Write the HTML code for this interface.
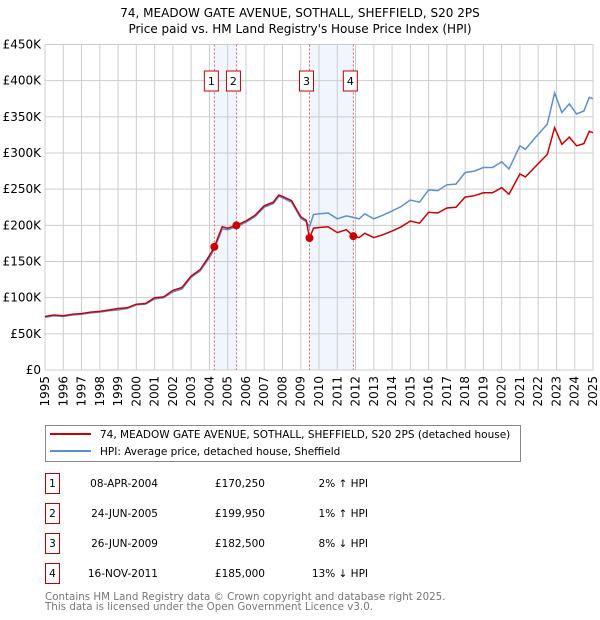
<!DOCTYPE html>
<html><head><meta charset="utf-8"><style>
body{margin:0;background:#fff;font-family:"DejaVu Sans","Liberation Sans",sans-serif;}
#wrap{position:relative;width:600px;height:620px;overflow:hidden}
svg text{font-family:"DejaVu Sans","Liberation Sans",sans-serif}
</style></head><body><div id="wrap">
<svg id="chart" width="600" height="620"></svg>
</div>
<script>
const dates=[1995.0,1995.5,1996.0,1996.5,1997.0,1997.5,1998.0,1998.5,1999.0,1999.5,2000.0,2000.5,2001.0,2001.5,2002.0,2002.5,2003.0,2003.5,2004.0,2004.27,2004.7,2005.0,2005.48,2006.0,2006.5,2007.0,2007.5,2007.8,2008.0,2008.5,2009.0,2009.3,2009.48,2009.7,2010.0,2010.5,2011.0,2011.5,2011.88,2012.2,2012.5,2013.0,2013.5,2014.0,2014.5,2015.0,2015.5,2016.0,2016.5,2017.0,2017.5,2018.0,2018.5,2019.0,2019.5,2020.0,2020.4,2021.0,2021.3,2021.8,2022.5,2022.9,2023.3,2023.7,2024.1,2024.5,2024.8,2025.0];
const hpiValues=[73,75,74,76,77,79,80,82,83,85,90,91,98,100,108,112,128,137,155,167,195,194,198,204,212,225,230,240,238,232,210,205,198,215,216,217,209,213,211,209,216,209,214,220,226,235,232,249,248,256,257,273,275,280,280,288,278,310,305,320,340,383,356,368,354,358,377,375];
const priceValues=[74,76,75,77,78,80,81,83,85,86,91,92,100,101,110,114,130,139,158,170,198,196,200,206,214,227,232,242,240,234,212,207,182.5,196,197,198,190,194,185,183,189,183,187,192,198,206,203,218,217,224,225,239,241,245,245,252,243,271,267,280,298,335,312,322,310,313,330,328];
const saleDates=[2004.27,2005.48,2009.48,2011.88];
const salePrices=[170.25,199.95,182.5,185];
const saleLabels=["1","2","3","4"];
const yTicks=[0,50,100,150,200,250,300,350,400,450];
const yTickLabels=["£0","£50K","£100K","£150K","£200K","£250K","£300K","£350K","£400K","£450K"];
const xYears=[1995,1996,1997,1998,1999,2000,2001,2002,2003,2004,2005,2006,2007,2008,2009,2010,2011,2012,2013,2014,2015,2016,2017,2018,2019,2020,2021,2022,2023,2024,2025];

const NS="http://www.w3.org/2000/svg";
const svg=document.getElementById('chart');
const X0=45,X1=593,Y0=370,Y1=44.5;
const xs=y=>X0+(y-1995)/(2025-1995)*(X1-X0);
const ys=v=>Y0-v/450*(Y0-Y1);
function mk(t,a,p){const e=document.createElementNS(NS,t);for(const k in a)e.setAttribute(k,a[k]);(p||svg).appendChild(e);return e;}

let t=mk('text',{x:300,y:17,'text-anchor':'middle','font-size':'12',fill:'#000'});t.textContent="74, MEADOW GATE AVENUE, SOTHALL, SHEFFIELD, S20 2PS";


t=mk('text',{x:300,y:33,'text-anchor':'middle','font-size':'12',fill:'#000'});t.textContent="Price paid vs. HM Land Registry's House Price Index (HPI)";



for(let i=0;i<saleDates.length;i+=2){
  const r=mk('rect',{x:xs(saleDates[i]),y:Y1,width:xs(saleDates[i+1])-xs(saleDates[i]),height:Y0-Y1,fill:'#f1f5fd'});
  
  
}
yTicks.forEach((v,i)=>{
  const l=mk('line',{x1:X0,x2:X1,y1:ys(v),y2:ys(v),stroke:'#cccccc','stroke-width':1});
  
  
  const tx=mk('text',{x:X0-4,y:ys(v)+4,'text-anchor':'end','font-size':'12',fill:'#000'});
  tx.textContent=yTickLabels[i];
  
  
});
xYears.forEach(yr=>{
  const l=mk('line',{x1:xs(yr),x2:xs(yr),y1:Y1,y2:Y0,stroke:'#cccccc','stroke-width':1});
  
  
  const tx=mk('text',{x:0,y:0,'text-anchor':'end','font-size':'12',fill:'#000',transform:`translate(${xs(yr)+4},${Y0+6}) rotate(-90)`});
  tx.textContent=yr;
  
  
});
saleDates.forEach((d,i)=>{
  const l=mk('line',{x1:xs(d),x2:xs(d),y1:Y1,y2:Y0,stroke:'#e06060','stroke-width':1,'stroke-dasharray':'2,2'});
  
  
  const bx=mk('rect',{x:xs(d)-10,y:71,width:14,height:20,fill:'#fff',stroke:'#c00000','stroke-width':1});
  
  
  const tx=mk('text',{x:xs(d)-3,y:85,'text-anchor':'middle','font-size':'11',fill:'#000'});
  tx.textContent=saleLabels[i];
  
  
});
function pathOf(vals){return vals.map((v,i)=>(i?'L':'M')+xs(dates[i]).toFixed(1)+','+ys(v).toFixed(1)).join('');}
let p=mk('path',{d:pathOf(hpiValues),fill:'none',stroke:'#5b8fd4','stroke-width':1.5});


p=mk('path',{d:pathOf(priceValues),fill:'none',stroke:'#cc0000','stroke-width':1.5});


saleDates.forEach((d,i)=>{
  const c=mk('circle',{cx:xs(d),cy:ys(salePrices[i]),r:4,fill:'#cc0000'});
  
  
});
let g=mk('rect',{x:45.5,y:425.5,width:475,height:36,fill:'#fff',stroke:'#888','stroke-width':1});


mk('line',{x1:50,x2:91,y1:434,y2:434,stroke:'#cc0000','stroke-width':2});
mk('line',{x1:50,x2:91,y1:451,y2:451,stroke:'#5b8fd4','stroke-width':2});
t=mk('text',{x:100,y:438,'font-size':'10.5',fill:'#000'});t.textContent="74, MEADOW GATE AVENUE, SOTHALL, SHEFFIELD, S20 2PS (detached house)";


t=mk('text',{x:100,y:455,'font-size':'10.5',fill:'#000'});t.textContent="HPI: Average price, detached house, Sheffield";


const tDates=["08-APR-2004","24-JUN-2005","26-JUN-2009","16-NOV-2011"];
const tPrices=["£170,250","£199,950","£182,500","£185,000"];
const tHpi=["2% ↑ HPI","1% ↑ HPI","8% ↓ HPI","13% ↓ HPI"];
tDates.forEach((d,i)=>{
  const y=483+i*30;
  const b=mk('rect',{x:45.5,y:y-9.5,width:14,height:20,fill:'#fff',stroke:'#c00000','stroke-width':1});
  
  
  let e=mk('text',{x:52.5,y:y+4,'text-anchor':'middle','font-size':'10.5',fill:'#000'});e.textContent=saleLabels[i];
  e=mk('text',{x:158,y:y+4,'text-anchor':'end','font-size':'10.5',fill:'#000'});e.textContent=d;
  
  
  e=mk('text',{x:265,y:y+4,'text-anchor':'end','font-size':'10.5',fill:'#000'});e.textContent=tPrices[i];
  
  
  e=mk('text',{x:368,y:y+4,'text-anchor':'end','font-size':'10.5',fill:'#000'});e.textContent=tHpi[i];
  
  
});
t=mk('text',{x:45,y:600,'font-size':'10.3',fill:'#777'});t.textContent="Contains HM Land Registry data © Crown copyright and database right 2025.";


t=mk('text',{x:45,y:610,'font-size':'10.3',fill:'#777'});t.textContent="This data is licensed under the Open Government Licence v3.0.";


</script></body></html>
